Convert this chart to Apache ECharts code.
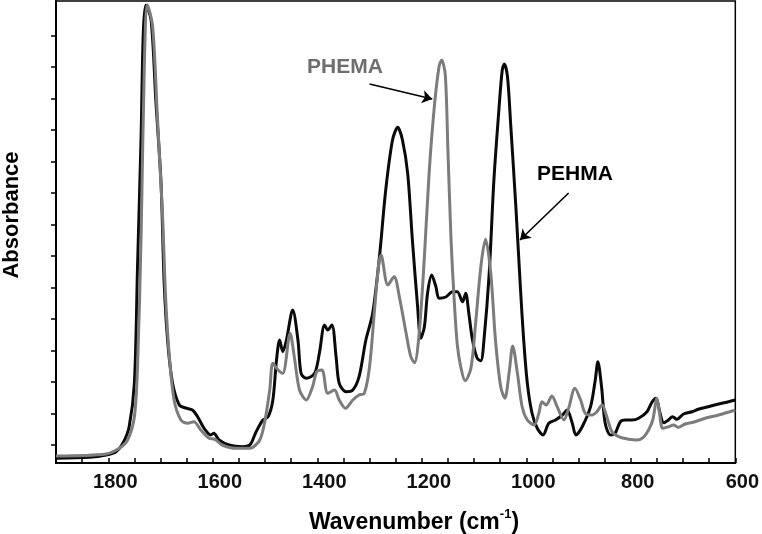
<!DOCTYPE html>
<html>
<head>
<meta charset="utf-8">
<script src="https://cdn.jsdelivr.net/npm/echarts@6/dist/echarts.min.js"></script>
<style>html,body{margin:0;padding:0;background:#fff}#c{width:762px;height:534px}</style>
</head>
<body>
<div id="c"></div>
<script>
// ---- data (wavenumber in cm-1, absorbance in arbitrary units) ----
const wnPEHMA = [1900,1836,1804,1785,1772,1760,1750,1744,1737,1733,1728,1718,1709,1699,1693,1686,1677,1664,1652,1639,1629,1617,1604,1598,1588,1569,1543,1529,1521,1517,1504,1494,1485,1478,1472,1466,1459,1447,1437,1431,1421,1405,1396,1386,1380,1372,1364,1358,1345,1332,1320,1307,1294,1281,1269,1256,1246,1237,1227,1218,1208,1202,1195,1189,1181,1173,1167,1154,1141,1132,1122,1116,1110,1103,1094,1087,1081,1071,1062,1052,1046,1042,1036,1030,1020,1011,1005,998,989,979,968,957,944,931,922,912,905,893,877,868,863,856,849,839,830,820,810,798,785,769,760,752,744,737,728,720,712,699,683,671,652,632,613,600];
const absPEHMA = [0.047,0.057,0.08,0.113,0.197,0.363,0.80,1.963,3.30,4.30,4.58,4.43,3.63,2.80,1.80,1.20,0.80,0.58,0.55,0.53,0.463,0.35,0.28,0.297,0.23,0.18,0.163,0.18,0.263,0.313,0.43,0.463,0.63,1.03,1.23,1.113,1.23,1.53,1.23,0.897,0.847,0.897,1.097,1.38,1.33,1.38,1.063,0.797,0.713,0.73,0.863,1.23,1.497,2.063,2.73,3.23,3.357,3.23,2.897,2.23,1.563,1.247,1.363,1.697,1.88,1.763,1.647,1.66,1.713,1.713,1.613,1.697,1.497,1.23,1.047,1.023,1.23,1.897,2.83,3.563,3.93,3.99,3.863,3.397,2.563,1.73,1.23,0.797,0.497,0.347,0.28,0.397,0.43,0.48,0.53,0.397,0.28,0.363,0.563,0.83,1.013,0.763,0.397,0.28,0.297,0.413,0.43,0.43,0.447,0.513,0.603,0.647,0.497,0.403,0.43,0.463,0.437,0.49,0.513,0.537,0.563,0.59,0.613,0.63];

const wnPHEMA = [1900,1804,1779,1763,1750,1744,1737,1731,1725,1715,1706,1696,1690,1683,1674,1661,1648,1636,1623,1607,1596,1582,1556,1531,1523,1510,1501,1491,1485,1475,1466,1452,1444,1434,1421,1409,1401,1391,1380,1367,1358,1346,1332,1320,1310,1300,1291,1283,1278,1265,1253,1243,1230,1221,1214,1205,1195,1186,1176,1167,1162,1155,1150,1144,1138,1132,1125,1117,1106,1097,1087,1078,1068,1059,1049,1041,1033,1026,1017,1008,998,985,976,970,962,951,941,928,919,907,896,887,874,865,855,846,836,823,804,788,776,766,758,750,745,739,728,718,709,696,677,658,632,600];
const absPHEMA = [0.07,0.09,0.147,0.23,0.463,0.963,2.30,3.963,4.58,4.363,3.463,2.463,1.63,1.063,0.63,0.43,0.397,0.413,0.33,0.247,0.237,0.18,0.147,0.147,0.157,0.23,0.397,0.73,0.997,0.93,0.897,1.297,1.063,0.73,0.63,0.763,0.913,0.93,0.697,0.73,0.63,0.547,0.63,0.68,0.697,0.963,1.497,1.963,2.08,1.78,1.863,1.663,1.297,1.063,1.003,1.297,2.063,2.897,3.563,3.963,4.03,3.88,3.13,2.23,1.63,1.18,0.95,0.823,0.947,1.397,1.963,2.237,1.897,1.23,0.763,0.647,0.897,1.17,0.897,0.563,0.43,0.38,0.497,0.613,0.58,0.67,0.563,0.43,0.547,0.747,0.63,0.497,0.48,0.513,0.58,0.463,0.313,0.263,0.237,0.23,0.257,0.33,0.43,0.647,0.497,0.347,0.363,0.38,0.357,0.39,0.413,0.447,0.48,0.53];

const xLabelValues = [1800,1600,1400,1200,1000,800,600];
const xTickValues = [1850,1800,1750,1700,1650,1600,1550,1500,1450,1400,1350,1300,1250,1200,1150,1100,1050,1000,950,900,850,800,750,700,650,600];
const yTickValues = [0.18,0.495,0.81,1.125,1.44,1.755,2.07,2.385,2.70,3.015,3.33,3.645,3.96,4.275];

const arrowPHEMA = [[1300,3.79],[1180,3.64]];
const arrowPEHMA = [[919,2.70],[1012,2.23]];

const FONT = '"Liberation Sans", Arial, sans-serif';
const pair = (xs, ys) => xs.map((x, i) => [x, ys[i]]);
const arrowLine = (a) => ({
  silent: true, animation: false,
  symbol: ['none', 'arrow'], symbolSize: 10,
  label: {show: false},
  lineStyle: {color: '#000', width: 1.6, type: 'solid'},
  itemStyle: {color: '#000'},
  emphasis: {disabled: true},
  data: [[{coord: a[0]}, {coord: a[1]}]]
});

const chart = echarts.init(document.getElementById('c'), null, {renderer: 'canvas'});
chart.setOption({
  animation: false,
  backgroundColor: '#fff',
  grid: {left: 56, right: 25, top: 1, bottom: 71, show: true, borderColor: '#000', borderWidth: 1.5},
  xAxis: {
    type: 'value', inverse: true, min: 600, max: 1900,
    axisLine: {show: true, onZero: false, lineStyle: {color: '#000', width: 2}},
    axisTick: {show: true, inside: true, length: 5, customValues: xTickValues, lineStyle: {color: '#000', width: 1.5}},
    axisLabel: {show: true, customValues: xLabelValues, formatter: (v) => String(v), margin: 9, color: '#111', fontSize: 20, fontWeight: 'bold', fontFamily: FONT, padding: [0, 0, 0, 14]},
    splitLine: {show: false}
  },
  yAxis: {
    type: 'value', min: 0, max: 4.62,
    axisLine: {show: true, onZero: false, lineStyle: {color: '#000', width: 2}},
    axisTick: {show: true, inside: false, length: 5, customValues: yTickValues, lineStyle: {color: '#000', width: 1.5}},
    axisLabel: {show: false},
    splitLine: {show: false}
  },
  series: [
    {
      name: 'PEHMA', type: 'line', data: pair(wnPEHMA, absPEHMA),
      showSymbol: false, smooth: 0.3,
      lineStyle: {color: '#0a0a0a', width: 3},
      markLine: arrowLine(arrowPEHMA)
    },
    {
      name: 'PHEMA', type: 'line', data: pair(wnPHEMA, absPHEMA),
      showSymbol: false, smooth: 0.3,
      lineStyle: {color: '#7c7c7c', width: 3},
      markLine: arrowLine(arrowPHEMA)
    }
  ],
  graphic: [
    {type: 'text', x: 345, y: 67, silent: true,
     style: {text: 'PHEMA', fill: '#6e6e6e', font: 'bold 21px ' + FONT, textAlign: 'center', textVerticalAlign: 'middle'}},
    {type: 'text', x: 575, y: 174, silent: true,
     style: {text: 'PEHMA', fill: '#000', font: 'bold 21px ' + FONT, textAlign: 'center', textVerticalAlign: 'middle'}},
    {type: 'text', x: 414, y: 521, silent: true,
     style: {
       text: '{a|Wavenumber (cm}{s|-1}{a|)}',
       textAlign: 'center', textVerticalAlign: 'middle',
       rich: {
         a: {fontSize: 23, fontWeight: 'bold', fontFamily: FONT, fill: '#000', lineHeight: 27, verticalAlign: 'bottom'},
         s: {fontSize: 13, fontWeight: 'bold', fontFamily: FONT, fill: '#000', lineHeight: 27, verticalAlign: 'top'}
       }
     }},
    {type: 'text', x: 12, y: 215, rotation: Math.PI / 2, silent: true,
     style: {text: 'Absorbance', fill: '#000', font: 'bold 22px ' + FONT, textAlign: 'center', textVerticalAlign: 'middle'}}
  ]
});
</script>
</body>
</html>
